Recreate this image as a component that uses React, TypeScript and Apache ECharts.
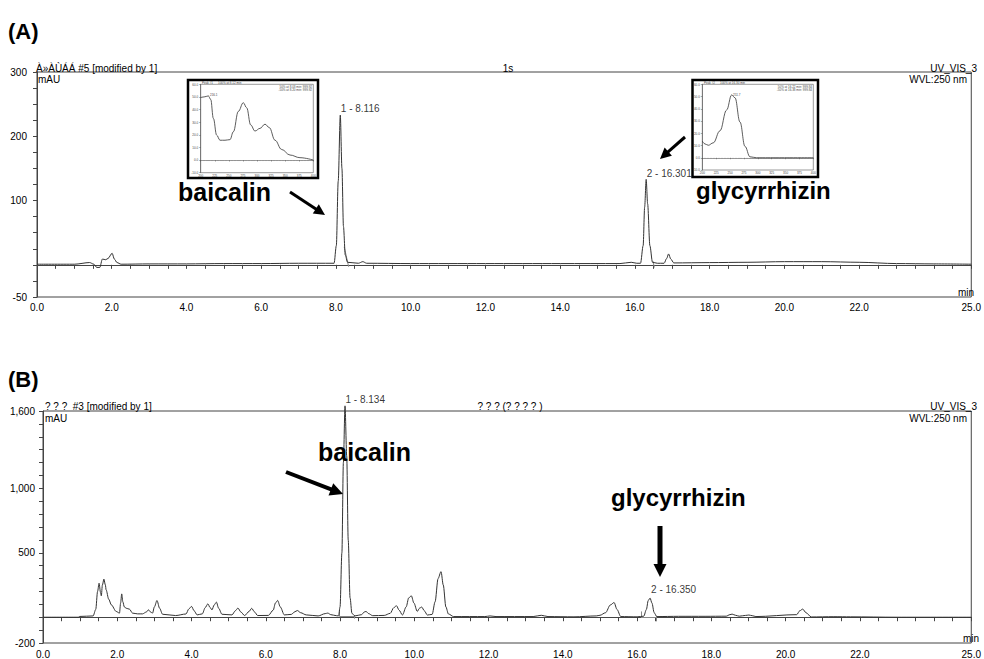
import React, { useEffect, useRef } from "react";
import * as echarts from "echarts";

const FONT = "'Liberation Sans', Arial, Helvetica, sans-serif";

// ---- Panel A chromatogram: [time (min), signal (mAU)] ----
const chromA: [number, number][] = [
  [0, 1], [1.0, 1], [1.41, 3.6], [1.52, 1], [1.6, -4], [1.68, -4], [1.75, 9], [1.84, 8], [1.9, 10],
  [2.01, 18], [2.07, 9], [2.14, 3.6], [2.25, 1], [3, 1.5], [4, 1.5], [5, 2], [6, 2], [7, 2.5],
  [7.95, 2.5], [8.01, 30], [8.06, 130], [8.116, 233], [8.16, 150], [8.2, 60], [8.25, 15], [8.31, 4],
  [8.6, 2.5], [8.72, 5], [8.82, 2.5], [10, 2], [12, 2], [14, 2], [15.6, 2], [15.9, 4], [16.05, 2.5],
  [16.15, 2.5], [16.22, 30], [16.26, 90], [16.301, 133], [16.34, 95], [16.4, 30], [16.47, 4],
  [16.6, 2.5], [16.78, 2.5], [16.85, 10], [16.9, 17], [16.96, 9], [17.04, 3], [18, 3.5], [19, 4],
  [20, 5], [21, 5], [22, 4], [23, 2], [24, 1.5], [25, 1],
];

// ---- Panel B chromatogram ----
const chromB: [number, number][] = [
  [0, 0], [0.95, 0], [0.99, 6], [1.35, 10], [1.42, 60], [1.47, 200], [1.51, 264], [1.55, 190],
  [1.57, 166], [1.6, 250], [1.64, 295], [1.68, 250], [1.7, 212], [1.77, 140], [1.84, 96], [1.97, 45],
  [2.06, 32], [2.09, 110], [2.12, 181], [2.15, 120], [2.19, 80], [2.24, 70], [2.33, 62], [2.41, 32],
  [2.55, 26], [2.68, 26], [2.78, 40], [2.84, 57], [2.9, 40], [2.95, 32], [3.0, 80], [3.07, 130],
  [3.14, 70], [3.22, 23], [3.57, 13], [3.85, 25], [3.93, 65], [4.0, 84], [4.07, 50], [4.15, 18],
  [4.29, 26], [4.37, 75], [4.44, 104], [4.5, 75], [4.55, 57], [4.61, 95], [4.67, 117], [4.73, 70],
  [4.82, 23], [5.09, 18], [5.18, 50], [5.25, 71], [5.33, 40], [5.43, 13], [5.55, 45], [5.62, 69],
  [5.7, 40], [5.78, 13], [6.07, 14], [6.2, 55], [6.26, 110], [6.32, 130], [6.39, 80], [6.5, 18],
  [6.69, 22], [6.78, 42], [6.85, 52], [6.94, 35], [7.09, 18], [7.41, 10], [7.6, 28], [7.67, 32],
  [7.75, 20], [7.9, 12], [7.96, 10], [8.0, 80], [8.05, 500], [8.09, 1200], [8.134, 1640],
  [8.18, 1250], [8.22, 600], [8.27, 150], [8.32, 30], [8.4, 10], [8.58, 20], [8.65, 40], [8.7, 45],
  [8.77, 28], [8.88, 12], [9.19, 14], [9.35, 30], [9.45, 75], [9.52, 89], [9.59, 55], [9.68, 17],
  [9.78, 80], [9.85, 150], [9.92, 166], [9.99, 110], [10.08, 45], [10.14, 70], [10.2, 79],
  [10.27, 50], [10.35, 17], [10.48, 22], [10.56, 120], [10.64, 300], [10.72, 354], [10.78, 250],
  [10.85, 80], [10.92, 25], [11.06, 5], [11.9, 5], [12.04, 10], [12.2, 5], [13.2, 5], [13.42, 15],
  [13.6, 5], [14.3, 3], [14.9, 10], [15.0, 15], [15.15, 35], [15.28, 95], [15.38, 114], [15.46, 60],
  [15.56, 5], [16.0, 3], [16.18, 8], [16.25, 60], [16.3, 130], [16.35, 148], [16.4, 110],
  [16.46, 35], [16.53, 5], [17.12, 7], [17.83, 7], [18.4, 8], [18.5, 20], [18.56, 24], [18.65, 15],
  [18.75, 8], [18.92, 14], [19.01, 17], [19.1, 12], [19.2, 5], [20.3, 20], [20.38, 50], [20.46, 63],
  [20.55, 35], [20.69, 2], [21.3, 4], [21.75, 3], [23, 0], [25, 0],
];

const peaksA = [
  { t: 8.116, v: 233, name: "1 - 8.116" },
  { t: 16.301, v: 133, name: "2 - 16.301" },
];
const peaksB = [
  { t: 8.134, v: 1640, name: "1 - 8.134" },
  { t: 16.35, v: 148, name: "2 - 16.350" },
];

const delimitersA: [number, number][][] = [
  [[8.22, 28], [8.34, -3]],
  [[16.48, 6], [16.52, -4]],
];
const delimitersB: [number, number][][] = [
  [[7.99, 58], [7.99, 6]],
  [[7.99, 6], [8.39, 6]],
  [[8.39, 17], [8.39, -11]],
  [[16.12, 45], [16.12, -6]],
  [[16.12, 2], [16.52, 2]],
  [[16.52, 6], [16.52, -32]],
];

// ---- UV spectra in the insets: [wavelength (nm), mAU] ----
const spectrumBaicalin: [number, number][] = [
  [200, 49.5], [206, 50], [213.6, 50.8], [217.8, 48], [222.5, 33], [228.4, 19.7], [234.3, 15.7],
  [243.2, 15.7], [252, 16.2], [258, 22.4], [266.9, 38.6], [275.7, 45.4], [281.7, 41.4],
  [288.8, 27.8], [296.4, 23], [305.3, 25.1], [314.2, 28.4], [321.9, 25.7], [332, 15.7],
  [343.8, 8.4], [358.6, 4], [376.3, 1.9], [400, 0],
];
const spectrumGlycyrrhizin: [number, number][] = [
  [200, 13.6], [204.8, 11.3], [210.8, 10.2], [219.8, 12.2], [231.8, 22], [243.8, 39],
  [252.9, 51.3], [258.9, 49], [267.9, 29.2], [276.9, 9.3], [285.9, 0.8], [297.9, 0], [400, 0],
];

const xLabelValues = [0, 2, 4, 6, 8, 10, 12, 14, 16, 18, 20, 22, 25];
const yLabelsA = [300, 200, 100, -50];
const yLabelsB = [1600, 1000, 500, -200];

const near = (list: number[], v: number) => list.some((l) => Math.abs(l - v) < 1e-6);

function arrow(x1: number, y1: number, x2: number, y2: number, w = 4, hl = 12, hw = 12) {
  const dx = x2 - x1, dy = y2 - y1;
  const L = Math.hypot(dx, dy);
  const ux = dx / L, uy = dy / L;
  const px = -uy, py = ux;
  const bx = x2 - ux * hl, by = y2 - uy * hl;
  return [
    { type: "line", z: 20, shape: { x1, y1, x2: bx + ux, y2: by + uy }, style: { stroke: "#000", lineWidth: w } },
    {
      type: "polygon",
      z: 20,
      shape: { points: [[x2, y2], [bx + (px * hw) / 2, by + (py * hw) / 2], [bx - (px * hw) / 2, by - (py * hw) / 2]] },
      style: { fill: "#000" },
    },
  ];
}

function txt(x: number, y: number, text: string, opts: any = {}) {
  return {
    type: "text",
    z: 20,
    x,
    y,
    style: {
      text,
      fill: "#000",
      font: `${opts.bold ? "bold " : ""}${opts.size || 10}px ${FONT}`,
      textAlign: opts.align || "left",
      textVerticalAlign: "middle",
      ...(opts.style || {}),
    },
  };
}

const mainX = (gridIndex: number) => ({
  type: "value",
  gridIndex,
  min: 0,
  max: 25,
  interval: 0.5,
  axisLine: { show: true, lineStyle: { color: "#444", width: 1 } },
  axisTick: { show: true, length: 4, lineStyle: { color: "#444" } },
  splitLine: { show: false },
  axisLabel: {
    margin: gridIndex === 0 ? 5 : 6,
    fontSize: 10,
    fontFamily: FONT,
    color: "#000",
    showMaxLabel: true,
    showMinLabel: true,
    formatter: (v: number) => (near(xLabelValues, v) ? v.toFixed(1) : ""),
  },
});

const insetX = (gridIndex: number) => ({
  type: "value",
  gridIndex,
  min: 200,
  max: 400,
  interval: 25,
  z: 10,
  axisLine: { show: true, lineStyle: { color: "#555", width: 0.6 } },
  axisTick: { show: true, length: 1.5, lineStyle: { color: "#555", width: 0.5 } },
  minorTick: { show: true, splitNumber: 5, length: 1, lineStyle: { color: "#777", width: 0.4 } },
  splitLine: { show: false },
  axisLabel: { margin: 1.5, fontSize: 3, fontFamily: FONT, color: "#444" },
});
const insetY = (gridIndex: number) => ({
  type: "value",
  gridIndex,
  min: -10,
  max: 60,
  interval: 10,
  z: 10,
  axisLine: { show: true, lineStyle: { color: "#555", width: 0.6 } },
  axisTick: { show: true, length: 1.5, lineStyle: { color: "#555", width: 0.5 } },
  splitLine: { show: false },
  axisLabel: { margin: 2.5, fontSize: 3, fontFamily: FONT, color: "#444", formatter: (v: number) => v.toFixed(1) },
});

export default function App() {
  const ref = useRef<HTMLDivElement>(null);
  useEffect(() => {
    if (!ref.current) return;
    const chart = echarts.init(ref.current, undefined, { renderer: "svg" });

    const peakLabelSeries = (xi: number, peaks: typeof peaksA, offsets: number[][]) => ({
      type: "scatter",
      xAxisIndex: xi,
      yAxisIndex: xi,
      symbolSize: 1,
      z: 2,
      clip: false,
      itemStyle: { color: "transparent" },
      data: peaks.map((p, i) => ({
        value: [p.t, p.v],
        label: {
          show: true,
          position: [0, 0],
          align: "left",
          verticalAlign: "bottom",
          offset: offsets[i],
          formatter: p.name,
          fontSize: 10,
          fontFamily: FONT,
          color: "#000",
        },
      })),
    });

    const option: any = {
      animation: false,
      backgroundColor: "#fff",
      grid: [
        { left: 37, top: 72, width: 940, height: 225, show: true, borderColor: "#444", borderWidth: 1, backgroundColor: "transparent" },
        { left: 43, top: 411, width: 935, height: 233, show: true, borderColor: "#444", borderWidth: 1, backgroundColor: "transparent" },
        { left: 200.7, top: 84.3, width: 112.6, height: 88.4, show: true, borderColor: "#555", borderWidth: 0.6, z: 10 },
        { left: 702.3, top: 84.3, width: 111, height: 85.7, show: true, borderColor: "#555", borderWidth: 0.6, z: 10 },
      ],
      xAxis: [mainX(0), mainX(1), insetX(2), insetX(3)],
      yAxis: [
        {
          type: "value",
          gridIndex: 0,
          min: -50,
          max: 300,
          interval: 25,
          axisLine: { show: true, lineStyle: { color: "#444" } },
          axisTick: { show: true, length: 4, lineStyle: { color: "#444" } },
          splitLine: { show: false },
          axisLabel: {
            margin: 10,
            fontSize: 10,
            fontFamily: FONT,
            color: "#000",
            formatter: (v: number) => (near(yLabelsA, v) ? String(v) : ""),
          },
        },
        {
          type: "value",
          gridIndex: 1,
          min: -200,
          max: 1600,
          interval: 100,
          axisLine: { show: true, lineStyle: { color: "#444" } },
          axisTick: { show: true, length: 4, lineStyle: { color: "#444" } },
          splitLine: { show: false },
          axisLabel: {
            margin: 8,
            fontSize: 10,
            fontFamily: FONT,
            color: "#000",
            formatter: (v: number) => (near(yLabelsB, v) ? v.toLocaleString("en-US") : ""),
          },
        },
        insetY(2),
        insetY(3),
      ],
      series: [
        {
          type: "line",
          xAxisIndex: 0,
          yAxisIndex: 0,
          data: chromA,
          showSymbol: false,
          smooth: 0.3,
          smoothMonotone: "x",
          lineStyle: { color: "#333", width: 1 },
          z: 2,
        },
        {
          type: "lines",
          coordinateSystem: "cartesian2d",
          xAxisIndex: 0,
          yAxisIndex: 0,
          data: delimitersA.map((c) => ({ coords: c })),
          lineStyle: { color: "#888", width: 1, opacity: 1 },
          z: 2,
        },
        peakLabelSeries(0, peaksA, [[1, -1], [1, 0]]),
        {
          type: "line",
          xAxisIndex: 1,
          yAxisIndex: 1,
          data: chromB,
          showSymbol: false,
          clip: false,
          smooth: 0.3,
          smoothMonotone: "x",
          lineStyle: { color: "#333", width: 1 },
          z: 2,
        },
        {
          type: "lines",
          coordinateSystem: "cartesian2d",
          xAxisIndex: 1,
          yAxisIndex: 1,
          data: delimitersB.map((c) => ({ coords: c })),
          lineStyle: { color: "#888", width: 1, opacity: 1 },
          z: 2,
        },
        peakLabelSeries(1, peaksB, [[1, -1], [1.5, -3]]),
        {
          type: "line",
          xAxisIndex: 2,
          yAxisIndex: 2,
          data: spectrumBaicalin,
          showSymbol: false,
          smooth: 0.4,
          smoothMonotone: "x",
          lineStyle: { color: "#333", width: 0.8 },
          z: 10,
        },
        {
          type: "line",
          xAxisIndex: 3,
          yAxisIndex: 3,
          data: spectrumGlycyrrhizin,
          showSymbol: false,
          smooth: 0.4,
          smoothMonotone: "x",
          lineStyle: { color: "#333", width: 0.8 },
          z: 10,
        },
      ],
      graphic: [
        // panel titles
        txt(8, 31, "(A)", { bold: true, size: 22 }),
        txt(8, 379, "(B)", { bold: true, size: 22 }),
        // panel A header
        txt(36, 68.5, "À»ÀÙÁÁ #5 [modified by 1]"),
        txt(508, 68.5, "1s", { align: "center" }),
        txt(977, 68.5, "UV_VIS_3", { align: "right" }),
        txt(38, 79.8, "mAU"),
        txt(967, 79.8, "WVL:250 nm", { align: "right" }),
        txt(958, 292, "min"),
        // panel B header
        txt(45, 406, "? ? ?  #3 [modified by 1]"),
        txt(510, 406, "? ? ? (? ? ? ? )", { align: "center" }),
        txt(977, 406, "UV_VIS_3", { align: "right" }),
        txt(45, 418, "mAU"),
        txt(967, 418, "WVL:250 nm", { align: "right" }),
        txt(963, 638, "min"),
        // inset frames
        { type: "rect", z: 5, shape: { x: 188, y: 80, width: 130, height: 98 }, style: { fill: "#fff", stroke: "#000", lineWidth: 2.5 } },
        { type: "rect", z: 5, shape: { x: 692.5, y: 80, width: 125.5, height: 97 }, style: { fill: "#fff", stroke: "#000", lineWidth: 2.5 } },
        txt(202, 83, "Peak #1      100% at 8.12 min", { size: 3, style: { fill: "#444" } }),
        txt(312, 86.5, "50% at 8.03 min: 999.92", { size: 3, align: "right", style: { fill: "#444" } }),
        txt(312, 90, "-50% at 8.20 min: 999.92", { size: 3, align: "right", style: { fill: "#444" } }),
        txt(210, 95, "216.1", { size: 3, style: { fill: "#444" } }),
        txt(704, 83, "Peak #2      100% at 16.30 min", { size: 3, style: { fill: "#444" } }),
        txt(812, 86.5, "50% at 16.22 min: 999.84", { size: 3, align: "right", style: { fill: "#444" } }),
        txt(812, 90, "-50% at 16.38 min: 999.84", { size: 3, align: "right", style: { fill: "#444" } }),
        txt(733, 95, "251.7", { size: 3, style: { fill: "#444" } }),
        // annotations
        txt(178, 192, "baicalin", { bold: true, size: 25 }),
        txt(696, 190, "glycyrrhizin", { bold: true, size: 24 }),
        txt(318, 452, "baicalin", { bold: true, size: 25 }),
        txt(611, 497, "glycyrrhizin", { bold: true, size: 24 }),
        ...arrow(290, 192, 325, 215, 3, 11, 11),
        ...arrow(685, 137, 660, 159, 3, 11, 11),
        ...arrow(286, 472, 343, 494, 4, 13, 13),
        ...arrow(660, 526, 660, 577, 5, 13, 13),
      ],
    };
    chart.setOption(option);
    return () => chart.dispose();
  }, []);
  return (
    <div
      ref={ref}
      style={{ position: "fixed", left: 0, top: 0, width: 984, height: 659, background: "#fff" }}
    />
  );
}
